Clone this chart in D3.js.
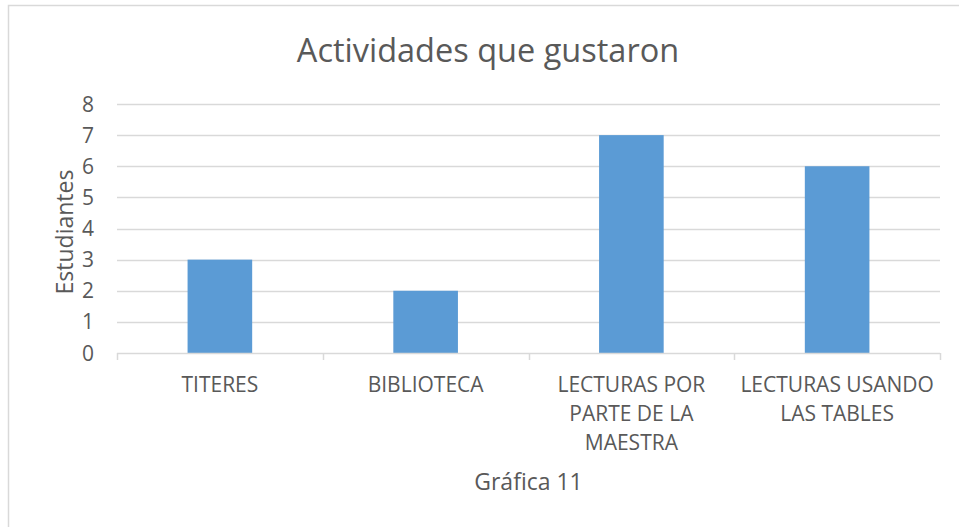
<!DOCTYPE html>
<html>
<head>
<meta charset="utf-8">
<script src="https://cdn.jsdelivr.net/npm/d3@7"></script>
<style>
  body { margin: 0; background: #fff; }
  text { font-family: 'Open Sans', sans-serif; fill: #595959; }
</style>
</head>
<body>
<div id="chart"></div>
<script>
var categories = [
  ['TITERES'],
  ['BIBLIOTECA'],
  ['LECTURAS POR', 'PARTE DE LA', 'MAESTRA'],
  ['LECTURAS USANDO', 'LAS TABLES']
];
var values = [3, 2, 7, 6];
var yTicks = [0, 1, 2, 3, 4, 5, 6, 7, 8];

var W = 959, H = 527;
var margin = { top: 104, right: 19, bottom: 174, left: 117 },
    width = W - margin.left - margin.right,
    height = H - margin.top - margin.bottom;

var svg = d3.select('#chart').append('svg')
    .attr('width', W)
    .attr('height', H);

// chart frame (only top/left visible in the crop)
svg.append('rect')
    .attr('x', 8.5)
    .attr('y', 5.5)
    .attr('width', W + 20)
    .attr('height', H + 20)
    .style('fill', 'none')
    .style('stroke', '#d9d9d9')
    .style('stroke-width', 1.5);

var g = svg.append('g')
    .attr('transform', 'translate(' + margin.left + ',' + margin.top + ')');

var keys = categories.map(function (c) { return c.join(' '); });

var x = d3.scaleBand()
    .domain(keys)
    .range([0, width])
    .paddingInner(0.686)
    .paddingOuter(0.343);

var y = d3.scaleLinear()
    .domain([0, 8])
    .range([height, 0]);

// gridlines
g.selectAll('.grid')
  .data(yTicks.filter(function (d) { return d > 0; }))
  .enter()
  .append('line')
  .attr('class', 'grid')
  .attr('x1', 0)
  .attr('x2', width)
  .attr('y1', function (d) { return Math.round(y(d)) + 0.5; })
  .attr('y2', function (d) { return Math.round(y(d)) + 0.5; })
  .style('stroke', '#d9d9d9')
  .style('stroke-width', 1.5);

// bars
g.selectAll('.bar')
  .data(values)
  .enter()
  .append('rect')
  .attr('class', 'bar')
  .attr('x', function (d, i) { return x(keys[i]); })
  .attr('y', function (d) { return y(d); })
  .attr('width', x.bandwidth())
  .attr('height', function (d) { return y(0) - y(d); })
  .style('fill', '#5b9bd5');

// x axis line + ticks at category boundaries
g.append('line')
  .attr('x1', 0)
  .attr('x2', width)
  .attr('y1', Math.round(y(0)) + 0.5)
  .attr('y2', Math.round(y(0)) + 0.5)
  .style('stroke', '#d9d9d9')
  .style('stroke-width', 1.5);

var gap = (x.step() - x.bandwidth()) / 2;
var bounds = keys.map(function (k) { return x(k) - gap; }).concat([width]);

g.selectAll('.xtick')
  .data(bounds)
  .enter()
  .append('line')
  .attr('class', 'xtick')
  .attr('x1', function (d) { return Math.round(d) + 0.5; })
  .attr('x2', function (d) { return Math.round(d) + 0.5; })
  .attr('y1', y(0))
  .attr('y2', y(0) + 7)
  .style('stroke', '#d9d9d9')
  .style('stroke-width', 1.5);

// category labels
var labels = g.selectAll('.xlabel')
  .data(categories)
  .enter()
  .append('text')
  .attr('class', 'xlabel')
  .attr('text-anchor', 'middle')
  .style('font-size', '21px');

labels.selectAll('tspan')
  .data(function (d, i) {
    return d.map(function (line) { return { line: line, key: keys[i] }; });
  })
  .enter()
  .append('tspan')
  .attr('x', function (d) { return x(d.key) + x.bandwidth() / 2; })
  .attr('y', function (d, j) { return height + 39 + j * 29; })
  .text(function (d) { return d.line; });

// y tick labels
g.selectAll('.ylabel')
  .data(yTicks)
  .enter()
  .append('text')
  .attr('class', 'ylabel')
  .attr('x', -23)
  .attr('y', function (d) { return y(d) + 7.5; })
  .attr('text-anchor', 'end')
  .style('font-size', '21px')
  .text(function (d) { return d; });

// titles
svg.append('text')
  .attr('x', 488)
  .attr('y', 62)
  .attr('text-anchor', 'middle')
  .style('font-size', '32.5px')
  .text('Actividades que gustaron');

svg.append('text')
  .attr('transform', 'translate(73,232) rotate(-90)')
  .attr('text-anchor', 'middle')
  .style('font-size', '23px')
  .text('Estudiantes');

svg.append('text')
  .attr('x', margin.left + width / 2)
  .attr('y', 490)
  .attr('text-anchor', 'middle')
  .style('font-size', '23px')
  .text('Gráfica 11');
</script>
</body>
</html>
